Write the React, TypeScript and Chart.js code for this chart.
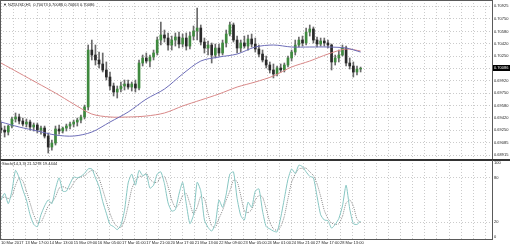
import React, { useEffect, useRef } from 'react';
import { Chart, registerables } from 'chart.js';

Chart.register(...registerables);

const SYMBOL_HEADER = '\u25BC NZDUSD,H1  0.70073 0.70086 0.70063 0.70086';
const STOCH_HEADER = 'Stoch(14,3,3) 21.5278 19.4444';
const LAST_PRICE_LABEL = '0.70086';
const BAR_HOURS = 3;

const openPrices = [
  0.69279, 0.69252, 0.69225, 0.69306, 0.69401, 0.69428, 0.69374, 0.69333, 0.69360, 0.69293,
  0.69320, 0.69252, 0.69279, 0.69171, 0.69023, 0.69077, 0.69266, 0.69239, 0.69279, 0.69306,
  0.69333, 0.69360, 0.69387, 0.69428, 0.69563, 0.70331, 0.70264, 0.70197, 0.70143, 0.70062,
  0.69967, 0.69846, 0.69765, 0.69805, 0.69846, 0.69873, 0.69832, 0.69873, 0.69819, 0.70156,
  0.70224, 0.70183, 0.70237, 0.70291, 0.70466, 0.70534, 0.70493, 0.70399, 0.70466, 0.70507,
  0.70412, 0.70493, 0.70385, 0.70520, 0.70588, 0.70628, 0.70439, 0.70358, 0.70399, 0.70264,
  0.70358, 0.70291, 0.70426, 0.70547, 0.70669, 0.70466, 0.70358, 0.70426, 0.70385, 0.70480,
  0.70412, 0.70345, 0.70277, 0.70197, 0.70129, 0.70062, 0.70008, 0.70089, 0.70062, 0.70129,
  0.70224, 0.70304, 0.70399, 0.70466, 0.70426, 0.70574, 0.70615, 0.70466, 0.70412, 0.70453,
  0.70426, 0.70399, 0.70170, 0.70224, 0.70264, 0.70358, 0.70156, 0.70116, 0.70035, 0.70075,
];
const highPrices = [
  0.69360, 0.69306, 0.69320, 0.69428, 0.69482, 0.69468, 0.69414, 0.69401, 0.69387, 0.69347,
  0.69347, 0.69306, 0.69306, 0.69212, 0.69117, 0.69306, 0.69320, 0.69293, 0.69333, 0.69360,
  0.69387, 0.69414, 0.69455, 0.69589, 0.70399, 0.70466, 0.70399, 0.70304, 0.70291, 0.70170,
  0.70035, 0.69886, 0.69846, 0.69900, 0.69927, 0.69927, 0.69900, 0.69927, 0.70197, 0.70264,
  0.70291, 0.70264, 0.70331, 0.70507, 0.70709, 0.70601, 0.70561, 0.70520, 0.70561, 0.70574,
  0.70547, 0.70561, 0.70574, 0.70655, 0.70898, 0.70669, 0.70493, 0.70453, 0.70426, 0.70412,
  0.70412, 0.70466, 0.70601, 0.70709, 0.70696, 0.70520, 0.70466, 0.70520, 0.70534, 0.70547,
  0.70493, 0.70399, 0.70331, 0.70250, 0.70170, 0.70143, 0.70116, 0.70143, 0.70156, 0.70250,
  0.70331, 0.70466, 0.70507, 0.70520, 0.70628, 0.70669, 0.70642, 0.70507, 0.70493, 0.70493,
  0.70466, 0.70412, 0.70264, 0.70331, 0.70399, 0.70385, 0.70224, 0.70170, 0.70116, 0.70102,
];
const lowPrices = [
  0.69212, 0.69158, 0.69185, 0.69279, 0.69360, 0.69333, 0.69306, 0.69293, 0.69252, 0.69239,
  0.69212, 0.69198, 0.69144, 0.68942, 0.68982, 0.69050, 0.69198, 0.69212, 0.69239, 0.69266,
  0.69293, 0.69306, 0.69347, 0.69401, 0.69522, 0.70197, 0.70129, 0.70089, 0.70035, 0.69927,
  0.69792, 0.69711, 0.69684, 0.69765, 0.69792, 0.69805, 0.69778, 0.69765, 0.69792, 0.70116,
  0.70156, 0.70102, 0.70197, 0.70264, 0.70399, 0.70439, 0.70331, 0.70331, 0.70385, 0.70358,
  0.70372, 0.70331, 0.70345, 0.70466, 0.70466, 0.70399, 0.70291, 0.70264, 0.70156, 0.70224,
  0.70250, 0.70264, 0.70372, 0.70520, 0.70439, 0.70291, 0.70304, 0.70358, 0.70331, 0.70372,
  0.70304, 0.70237, 0.70170, 0.70089, 0.70021, 0.69954, 0.69981, 0.70035, 0.70035, 0.70102,
  0.70183, 0.70264, 0.70372, 0.70385, 0.70399, 0.70520, 0.70426, 0.70372, 0.70385, 0.70385,
  0.70358, 0.70062, 0.70129, 0.70170, 0.70250, 0.70116, 0.70075, 0.69967, 0.69994, 0.70035,
];
const closePrices = [
  0.69252, 0.69225, 0.69306, 0.69401, 0.69428, 0.69374, 0.69333, 0.69360, 0.69293, 0.69320,
  0.69252, 0.69279, 0.69171, 0.69023, 0.69077, 0.69266, 0.69239, 0.69279, 0.69306, 0.69333,
  0.69360, 0.69387, 0.69428, 0.69563, 0.70331, 0.70264, 0.70197, 0.70143, 0.70062, 0.69967,
  0.69846, 0.69765, 0.69805, 0.69846, 0.69873, 0.69832, 0.69873, 0.69819, 0.70156, 0.70224,
  0.70183, 0.70237, 0.70291, 0.70466, 0.70534, 0.70493, 0.70399, 0.70466, 0.70507, 0.70412,
  0.70493, 0.70385, 0.70520, 0.70588, 0.70628, 0.70439, 0.70358, 0.70399, 0.70264, 0.70358,
  0.70291, 0.70426, 0.70547, 0.70669, 0.70466, 0.70358, 0.70426, 0.70385, 0.70480, 0.70412,
  0.70345, 0.70277, 0.70197, 0.70129, 0.70062, 0.70008, 0.70089, 0.70062, 0.70129, 0.70224,
  0.70304, 0.70399, 0.70466, 0.70426, 0.70574, 0.70615, 0.70466, 0.70412, 0.70453, 0.70426,
  0.70399, 0.70170, 0.70224, 0.70264, 0.70358, 0.70156, 0.70116, 0.70035, 0.70075, 0.70086,
];

const maHours = [0, 15, 30, 45, 60, 75, 90, 105, 120, 135, 150, 165, 180, 195, 210, 225, 240, 255, 270, 285, 297];
const maFast = [
  0.69360, 0.69293, 0.69239, 0.69185, 0.69171, 0.69225, 0.69360, 0.69495, 0.69670, 0.69805,
  0.70008, 0.70183, 0.70237, 0.70277, 0.70372, 0.70399, 0.70372, 0.70372, 0.70372, 0.70358, 0.70304,
];
const maSlow = [
  0.70156, 0.70021, 0.69886, 0.69751, 0.69603, 0.69468, 0.69428, 0.69428, 0.69441, 0.69482,
  0.69576, 0.69657, 0.69738, 0.69832, 0.69900, 0.69981, 0.70102, 0.70183, 0.70277, 0.70345, 0.70318,
];

const stochMain = [
  50, 59, 45, 62, 90, 80, 64, 50, 30, 17,
  14, 30, 42, 50, 45, 65, 80, 62, 62, 72,
  81, 80, 82, 86, 92, 92, 80, 68, 48, 32,
  17, 14, 10, 16, 36, 73, 85, 70, 90, 83,
  85, 66, 70, 85, 88, 72, 46, 35, 37, 58,
  74, 45, 18, 30, 74, 62, 23, 13, 8, 18,
  50, 40, 58, 85, 88, 52, 29, 23, 47, 40,
  62, 65, 35, 14, 11, 8, 7, 26, 52, 78,
  92, 86, 97, 95, 88, 82, 80, 55, 30, 23,
  22, 12, 17, 25, 42, 70, 38, 18, 17, 21.5,
];
const stochSignal = [
  52, 54, 52, 55, 70, 80, 76, 62, 46, 30,
  20, 20, 30, 42, 47, 54, 66, 68, 66, 65,
  73, 79, 81, 83, 87, 90, 88, 79, 64, 48,
  32, 20, 14, 13, 22, 42, 65, 76, 82, 82,
  86, 78, 74, 74, 81, 82, 68, 50, 40, 44,
  56, 59, 45, 31, 40, 55, 52, 32, 15, 13,
  25, 36, 50, 62, 77, 75, 56, 35, 33, 37,
  50, 56, 54, 38, 20, 11, 9, 14, 28, 52,
  74, 85, 92, 93, 93, 88, 83, 72, 55, 36,
  25, 19, 17, 18, 28, 46, 50, 42, 24, 19.4,
];

const priceTicks = [0.70925, 0.7075, 0.7058, 0.7042, 0.7025, 0.70085, 0.6992, 0.6975, 0.6958, 0.6942, 0.6925, 0.69085, 0.68915];
const stochTicks = [0, 20, 80, 100];
const timeLabelHours = [0, 20, 40, 60, 80, 100, 120, 140, 160, 180, 200, 220, 240, 260, 280];
const timeLabels = [
  '10 Mar 2017', '13 Mar 17:00', '14 Mar 13:00', '15 Mar 09:00', '16 Mar 05:00',
  '17 Mar 01:00', '17 Mar 21:00', '20 Mar 17:00', '21 Mar 13:00', '22 Mar 09:00',
  '23 Mar 05:00', '24 Mar 01:00', '24 Mar 21:00', '27 Mar 17:00', '28 Mar 13:00',
];
const gridHours = [
  0, 10, 20, 30, 40, 50, 60, 70, 80, 90, 100, 110, 120, 130, 140, 150, 160, 170, 180, 190, 200,
  210, 220, 230, 240, 250, 260, 270, 280, 290, 300, 310, 320, 330, 340, 350, 360, 370, 380, 390, 400,
];

const X_MIN = -0.83;
const X_MAX = 405.5;
const PRICE_MAX = 0.71006;
const PRICE_MIN = 0.68848;
const STOCH_MAX = 104.05;
const STOCH_MIN = -2.7;

const FONT = "'Liberation Sans', Arial, sans-serif";
const GRID = '#cbcbcb';
const FRAME = '#5a5a5a';

const xScaleBase = (showLabels: boolean) => ({
  type: 'linear' as const,
  min: X_MIN,
  max: X_MAX,
  offset: false,
  grid: { offset: false, color: GRID, lineWidth: 1, drawTicks: false },
  border: { display: false, dash: [1, 2] },
  ticks: {
    display: showLabels,
    autoSkip: false,
    maxRotation: 0,
    minRotation: 0,
    align: 'start' as const,
    padding: 1,
    color: '#222',
    font: { family: FONT, size: 4 },
    callback: (v: number) => {
      const k = timeLabelHours.indexOf(v);
      return k >= 0 ? timeLabels[k] : '';
    },
  },
  afterBuildTicks: (s: any) => {
    s.ticks = gridHours.map((v) => ({ value: v }));
  },
  afterFit: (s: any) => {
    s.height = showLabels ? 8 : 0;
    s.paddingLeft = 0;
    s.paddingRight = 0;
  },
});

export default function App() {
  const mainRef = useRef<HTMLCanvasElement | null>(null);
  const stochRef = useRef<HTMLCanvasElement | null>(null);

  useEffect(() => {
    const mainCanvas = mainRef.current!;
    const stochCanvas = stochRef.current!;

    const bodyColors = openPrices.map((o, i) => (closePrices[i] >= o ? '#3f8a3f' : '#2a2a2a'));

    const mainPlugin = {
      id: 'mainDecor',
      afterDraw(chart: any) {
        const { ctx, chartArea, scales } = chart;
        ctx.save();
        ctx.strokeStyle = FRAME;
        ctx.lineWidth = 1;
        ctx.beginPath();
        ctx.moveTo(0, 0.5);
        ctx.lineTo(chartArea.right, 0.5);
        ctx.moveTo(chartArea.right + 0.5, 0);
        ctx.lineTo(chartArea.right + 0.5, 160);
        ctx.moveTo(0.5, 0);
        ctx.lineTo(0.5, 160);
        ctx.stroke();
        ctx.strokeStyle = '#333';
        ctx.beginPath();
        ctx.moveTo(0, 159.5);
        ctx.lineTo(510, 159.5);
        ctx.stroke();
        ctx.font = `4px ${FONT}`;
        ctx.fillStyle = '#222';
        ctx.textBaseline = 'middle';
        ctx.textAlign = 'left';
        ctx.fillText(SYMBOL_HEADER, 3, 4.5);
        const yp = scales.y.getPixelForValue(closePrices[closePrices.length - 1]);
        ctx.fillStyle = '#000';
        ctx.fillRect(chartArea.right + 1, Math.round(yp) - 3, 18, 6);
        ctx.fillStyle = '#fff';
        ctx.fillText(LAST_PRICE_LABEL, chartArea.right + 2, Math.round(yp));
        ctx.restore();
      },
    };

    const stochPlugin = {
      id: 'stochDecor',
      afterDraw(chart: any) {
        const { ctx, chartArea } = chart;
        ctx.save();
        ctx.strokeStyle = '#333';
        ctx.lineWidth = 1;
        ctx.beginPath();
        ctx.moveTo(0, 0.5);
        ctx.lineTo(510, 0.5);
        ctx.stroke();
        ctx.strokeStyle = FRAME;
        ctx.beginPath();
        ctx.moveTo(0, chartArea.bottom + 0.5);
        ctx.lineTo(chartArea.right, chartArea.bottom + 0.5);
        ctx.moveTo(chartArea.right + 0.5, 0);
        ctx.lineTo(chartArea.right + 0.5, chartArea.bottom + 1);
        ctx.moveTo(0.5, 0);
        ctx.lineTo(0.5, chartArea.bottom);
        ctx.stroke();
        ctx.font = `4px ${FONT}`;
        ctx.fillStyle = '#222';
        ctx.textBaseline = 'middle';
        ctx.textAlign = 'left';
        ctx.fillText(STOCH_HEADER, 2, 4);
        ctx.restore();
      },
    };

    const mainChart = new Chart(mainCanvas, {
      type: 'bar',
      data: {
        datasets: [
          {
            type: 'line',
            data: maHours.map((h, i) => ({ x: h, y: maFast[i] })),
            borderColor: '#6d6db8',
            borderWidth: 1,
            pointRadius: 0,
            tension: 0.3,
            order: 0,
          } as any,
          {
            type: 'line',
            data: maHours.map((h, i) => ({ x: h, y: maSlow[i] })),
            borderColor: '#d88888',
            borderWidth: 1,
            pointRadius: 0,
            tension: 0.3,
            order: 0,
          } as any,
          {
            type: 'bar',
            data: openPrices.map((o, i) => ({ x: i * BAR_HOURS, y: [o, closePrices[i]] })),
            backgroundColor: bodyColors,
            barThickness: 2,
            grouped: false,
            order: 1,
          } as any,
          {
            type: 'bar',
            data: lowPrices.map((l, i) => ({ x: i * BAR_HOURS, y: [l, highPrices[i]] })),
            backgroundColor: '#6a6a6a',
            barThickness: 1,
            grouped: false,
            order: 2,
          } as any,
        ],
      },
      options: {
        animation: false,
        responsive: false,
        maintainAspectRatio: false,
        devicePixelRatio: 1,
        layout: { padding: 0 },
        plugins: { legend: { display: false }, tooltip: { enabled: false } },
        scales: {
          x: xScaleBase(false) as any,
          y: {
            type: 'linear',
            position: 'right',
            min: PRICE_MIN,
            max: PRICE_MAX,
            grid: { color: GRID, lineWidth: 1, drawTicks: false },
            border: { display: false, dash: [1, 2] },
            ticks: {
              autoSkip: false,
              padding: 2,
              color: '#222',
              font: { family: FONT, size: 4 },
              callback: (v: number) => Number(v).toFixed(5),
            },
            afterBuildTicks: (s: any) => {
              s.ticks = priceTicks.map((v) => ({ value: v }));
            },
            afterFit: (s: any) => {
              s.width = 18;
              s.paddingTop = 0;
              s.paddingBottom = 0;
            },
          } as any,
        },
      },
      plugins: [mainPlugin],
    });

    const stochChart = new Chart(stochCanvas, {
      type: 'line',
      data: {
        datasets: [
          {
            data: stochMain.map((v, i) => ({ x: i * BAR_HOURS, y: v })),
            borderColor: '#86c6c2',
            borderWidth: 1,
            pointRadius: 0,
            tension: 0.2,
          },
          {
            data: stochSignal.map((v, i) => ({ x: i * BAR_HOURS, y: v })),
            borderColor: '#8a8a8a',
            borderWidth: 1,
            borderDash: [1, 1],
            pointRadius: 0,
            tension: 0.2,
          },
        ],
      },
      options: {
        animation: false,
        responsive: false,
        maintainAspectRatio: false,
        devicePixelRatio: 1,
        layout: { padding: 0 },
        plugins: { legend: { display: false }, tooltip: { enabled: false } },
        scales: {
          x: xScaleBase(true) as any,
          y: {
            type: 'linear',
            position: 'right',
            min: STOCH_MIN,
            max: STOCH_MAX,
            grid: {
              drawTicks: false,
              lineWidth: 1,
              color: (c: any) => (c.tick && (c.tick.value === 20 || c.tick.value === 80) ? GRID : 'rgba(0,0,0,0)'),
            },
            border: { display: false, dash: [1, 2] },
            ticks: {
              autoSkip: false,
              padding: 2,
              color: '#222',
              font: { family: FONT, size: 4 },
              callback: (v: number) => String(v),
            },
            afterBuildTicks: (s: any) => {
              s.ticks = stochTicks.map((v) => ({ value: v }));
            },
            afterFit: (s: any) => {
              s.width = 18;
              s.paddingTop = 0;
              s.paddingBottom = 0;
            },
          } as any,
        },
      },
      plugins: [stochPlugin],
    });

    return () => {
      mainChart.destroy();
      stochChart.destroy();
    };
  }, []);

  return (
    <div style={{ position: 'fixed', left: 0, top: 0, width: 510, height: 247, background: '#fff' }}>
      <canvas ref={mainRef} width={510} height={160} style={{ position: 'absolute', left: 0, top: 0, width: 510, height: 160 }} />
      <canvas ref={stochRef} width={510} height={87} style={{ position: 'absolute', left: 0, top: 160, width: 510, height: 87 }} />
    </div>
  );
}
